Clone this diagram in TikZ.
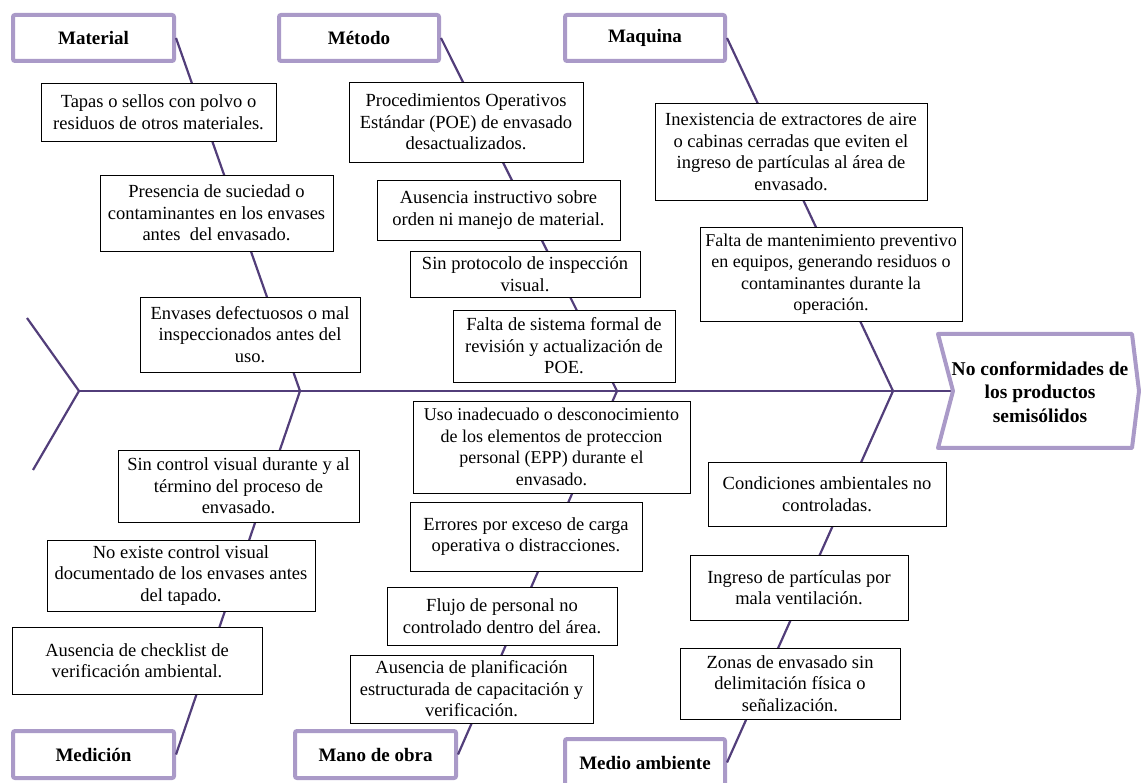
\documentclass[tikz,border=0pt]{standalone}
\usepackage{fontspec}
\setmainfont{Liberation Serif}
\definecolor{bone}{RGB}{82,62,122}
\definecolor{catline}{RGB}{170,154,200}

% cause box given by its corners (x1,y1) (x2,y2) in picture units
\newcommand\causenode[7][]{%
  \node[causebox, #1, minimum width={#5-#3}, minimum height={#6-#4}] (#2)
    at ({(#3+#5)/2},{(#4+#6)/2}) {#7};}
% category box given by its outer corners
\newcommand\catnode[6]{%
  \node[catbox, minimum width={#4-#2-4}, minimum height={#5-#3-4}] (#1)
    at ({(#2+#4)/2},{(#3+#5)/2}) {#6};}

\begin{document}
\begin{tikzpicture}[x=1pt,y=-1pt,
  causebox/.style={draw=black, line width=0.9pt, fill=white, align=center,
    inner sep=2pt, font=\fontsize{18.5}{21.5}\selectfont},
  midtext/.style={font=\fontsize{18}{21.5}\selectfont},
  catbox/.style={draw=catline, line width=4pt, rounded corners=2pt, fill=white,
    inner sep=0pt, font=\fontsize{19}{22}\selectfont\bfseries},
  boneline/.style={draw=bone, line width=2.2pt},
  headtext/.style={align=center, inner sep=0pt,
    font=\fontsize{19.5}{23.5}\selectfont\bfseries}]

\useasboundingbox (0,0) rectangle (1141,783);

% spine, tail and junctions
\coordinate (tail) at (79,391);
\coordinate (tailup) at (27,318);
\coordinate (taildn) at (33,470);
\coordinate (jA) at (300,391);
\coordinate (jB) at (617,391);
\coordinate (jC) at (893,391);
\coordinate (notch) at (953,391);

% categories
\catnode{mat}{11}{13}{176}{63}{Material}
\catnode{met}{277}{13}{441}{63}{Método}
\catnode{maq}{563}{13}{727}{63}{Maquina}
\catnode{med}{11}{729}{176}{780}{Medición}
\catnode{mano}{293}{729}{458}{780}{Mano de obra}
\catnode{amb}{563}{737}{727}{788}{Medio ambiente}

% bones
\draw[boneline] (tailup) -- (tail) -- (taildn);
\draw[boneline] (tail) -- (notch);
\draw[boneline] (mat.east) -- (jA) -- (med.east);
\draw[boneline] (met.east) -- (jB) -- (mano.east);
\draw[boneline] (maq.east) -- (jC) -- (amb.east);

% effect head
\draw[catline, line width=4pt, fill=white, line join=round]
  (938,334) -- (1132,334) -- (1139,391) -- (1132,448) -- (938,448) -- (notch) -- cycle;
\node[headtext] (effect) at (1040,392) {No conformidades de\\los productos\\semisólidos};

% Material
\causenode{c1}{41}{83}{276}{141}{Tapas o sellos con polvo o\\residuos de otros materiales.}
\causenode{c2}{100}{175}{333}{251}{Presencia de suciedad o\\contaminantes en los envases\\antes\ \ del envasado.}
\causenode{c3}{140}{297}{360}{372}{Envases defectuosos o mal\\inspeccionados antes del\\uso.}

% Medición
\causenode{c4}{118}{450}{359}{522}{Sin control visual durante y al\\término del proceso de\\envasado.}
\causenode{c5}{47}{540}{315}{611}{No existe control visual\\documentado de los envases antes\\del tapado.}
\causenode{c6}{12}{627}{262}{694}{Ausencia de checklist de\\verificación ambiental.}

% Método
\causenode{c7}{349}{82}{583}{162}{Procedimientos Operativos\\Estándar (POE) de envasado\\desactualizados.}
\causenode{c8}{377}{180}{620}{240}{Ausencia instructivo sobre\\orden ni manejo de material.}
\causenode{c9}{410}{251}{640}{297}{Sin protocolo de inspección\\visual.}
\causenode{c10}{453}{310}{675}{382}{Falta de sistema formal de\\revisión y actualización de\\POE.}

% Mano de obra
\causenode[midtext]{c11}{413}{401}{690}{493}{Uso inadecuado o desconocimiento\\de los elementos de proteccion\\personal (EPP) durante el\\envasado.}
\causenode{c12}{410}{502}{642}{571}{Errores por exceso de carga\\operativa o distracciones.}
\causenode{c13}{387}{587}{617}{645}{Flujo de personal no\\controlado dentro del área.}
\causenode{c14}{350}{655}{593}{723}{Ausencia de planificación\\estructurada de capacitación y\\verificación.}

% Maquina
\causenode{c15}{655}{103}{927}{200}{Inexistencia de extractores de aire\\o cabinas cerradas que eviten el\\ingreso de partículas al área de\\envasado.}
\causenode[midtext]{c16}{700}{227}{962}{321}{Falta de mantenimiento preventivo\\en equipos, generando residuos o\\contaminantes durante la\\operación.}

% Medio ambiente
\causenode{c17}{708}{462}{946}{526}{Condiciones ambientales no\\controladas.}
\causenode{c18}{690}{555}{908}{620}{Ingreso de partículas por\\mala ventilación.}
\causenode{c19}{680}{648}{900}{719}{Zonas de envasado sin\\delimitación física o\\señalización.}

\end{tikzpicture}
\end{document}
